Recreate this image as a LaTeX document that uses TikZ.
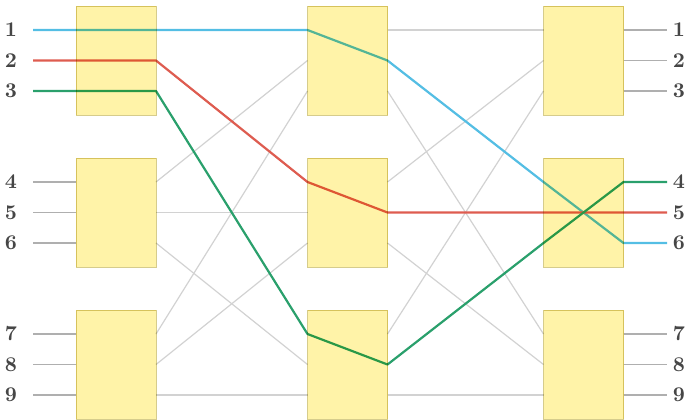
\documentclass[tikz,border=0pt]{standalone}
\usepackage{tikz}
\usetikzlibrary{calc,backgrounds}
\definecolor{boxfill}{RGB}{255,243,168}
\definecolor{boxline}{RGB}{214,204,140}
\definecolor{wiregray}{RGB}{210,210,210}
\definecolor{stubgray}{RGB}{175,175,175}
\definecolor{pathblue}{RGB}{84,190,228}
\definecolor{pathred}{RGB}{222,92,80}
\definecolor{pathgreen}{RGB}{42,160,108}
\definecolor{digit}{RGB}{70,70,70}

\begin{document}
\begin{tikzpicture}[
  x=0.5pt, y=-0.5pt,
  stage/.style={draw=boxline,fill=boxfill,line width=0.5pt,blend mode=multiply,
    minimum width=40pt,minimum height=54.5pt,inner sep=0pt,outer sep=0pt},
  wire/.style={wiregray,line width=0.6pt},
  stub/.style={stubgray,line width=0.6pt},
  route/.style={line width=1.1pt,line join=round}
]
\useasboundingbox (0,0) rectangle (690,419);
% switch stages
\foreach \c/\x in {L/116,M/347.5,R/583.5}
  \foreach \k/\y in {1/60.5,2/212.5,3/364.5}
    \node[stage] (\c\k) at (\x,\y) {};
% ports
\foreach \c in {L,M,R}
  \foreach \k in {1,2,3}
    \foreach \q in {1,2,3}{
      \coordinate (\c\k-i\q) at ($(\c\k.west)+(0,{(\q-2)*30.5})$);
      \coordinate (\c\k-o\q) at ($(\c\k.east)+(0,{(\q-2)*30.5})$);
    }
% terminals
\foreach \k in {1,2,3}
  \foreach \q in {1,2,3}{
    \pgfmathtruncatemacro{\n}{3*(\k-1)+\q}
    \node[font=\fontsize{10.5}{12}\selectfont\bfseries,text=digit,inner sep=0pt]
      (in\n) at ($(L\k-i\q)+(-65,0)$) {\n};
    \node[font=\fontsize{10.5}{12}\selectfont\bfseries,text=digit,inner sep=0pt]
      (out\n) at ($(R\k-o\q)+(55.5,0)$) {\n};
    \coordinate (a\n) at ($(L\k-i\q)+(-43,0)$);
    \coordinate (z\n) at ($(R\k-o\q)+(43.5,0)$);
  }
\begin{scope}[on background layer]
  \foreach \k in {1,2,3}
    \foreach \q in {1,2,3}{
      \pgfmathtruncatemacro{\n}{3*(\k-1)+\q}
      \draw[stub] (a\n) -- (L\k-i\q);
      \draw[stub] (R\k-o\q) -- (z\n);
    }
  \foreach \i in {1,2,3}
    \foreach \j in {1,2,3}{
      \draw[wire] (L\i-o\j) -- (M\j-i\i);
      \draw[wire] (M\i-o\j) -- (R\j-i\i);
    }
  % the three routed calls
  \draw[route,pathblue] (a1) -- (L1-i1) -- (L1-o1) -- (M1-i1) -- (M1-o2)
    -- (R2-i1) -- (R2-o3) -- (z6);
  \draw[route,pathred] (a2) -- (L1-i2) -- (L1-o2) -- (M2-i1) -- (M2-o2)
    -- (R2-i2) -- (R2-o2) -- (z5);
  \draw[route,pathgreen] (a3) -- (L1-i3) -- (L1-o3) -- (M3-i1) -- (M3-o2)
    -- (R2-i3) -- (R2-o1) -- (z4);
\end{scope}
\end{tikzpicture}
\end{document}
